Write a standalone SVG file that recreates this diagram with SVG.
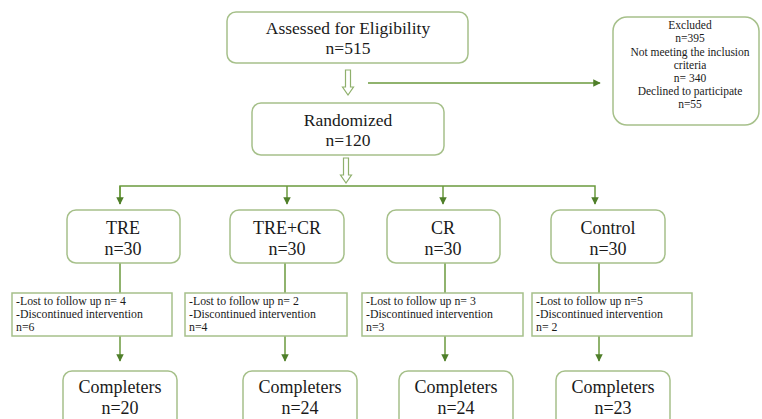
<svg xmlns="http://www.w3.org/2000/svg" width="762" height="419" viewBox="0 0 762 419">
<style>
.box{fill:#fff;stroke:#a6c08a;stroke-width:1.5}
.ln{stroke:#6b9a3e;stroke-width:1.5;fill:none}
.hol{fill:#fff;stroke:#8fb06c;stroke-width:1.2}
</style>
<defs>
<marker id="ah" viewBox="0 0 10 10" refX="9" refY="5" markerWidth="5" markerHeight="5" orient="auto">
<path d="M0,0 L10,5 L0,10 z" fill="#4f7f2a"/>
</marker>
</defs>
<rect width="762" height="419" fill="#fff"/>

<g id="connectors">
<polygon class="hol" points="345.5,70 350.5,70 350.5,87 353.5,87 348,95 342.5,87 345.5,87"/>
<polygon class="hol" points="343.5,158 348.5,158 348.5,175 351.5,175 346,183 340.5,175 343.5,175"/>
<line class="ln" x1="368" y1="83" x2="600" y2="83" marker-end="url(#ah)"/>
<polyline class="ln" points="120,204 120,186 595,186 595,204" marker-end="url(#ah)"/>
<line class="ln" x1="120" y1="186" x2="120" y2="204" marker-end="url(#ah)"/>
<line class="ln" x1="287" y1="186" x2="287" y2="204" marker-end="url(#ah)"/>
<line class="ln" x1="443" y1="186" x2="443" y2="204" marker-end="url(#ah)"/>
<line class="ln" x1="120" y1="263" x2="120" y2="293"/>
<line class="ln" x1="285" y1="263" x2="285" y2="293"/>
<line class="ln" x1="445" y1="263" x2="445" y2="293"/>
<line class="ln" x1="599" y1="263" x2="599" y2="293"/>
<line class="ln" x1="120" y1="336" x2="120" y2="361" marker-end="url(#ah)"/>
<line class="ln" x1="285" y1="336" x2="285" y2="361" marker-end="url(#ah)"/>
<line class="ln" x1="445" y1="336" x2="445" y2="361" marker-end="url(#ah)"/>
<line class="ln" x1="599" y1="336" x2="599" y2="361" marker-end="url(#ah)"/>
</g>

<g font-family="Liberation Serif" fill="#1a1a1a">
<g id="assessed" text-anchor="middle" font-size="17.5">
<rect class="box" x="227" y="12" width="241" height="51" rx="9"/>
<text x="348" y="34">Assessed for Eligibility</text>
<text x="348" y="54">n=515</text>
</g>

<g id="excluded" text-anchor="middle" font-size="11.5">
<rect class="box" x="613" y="17" width="146" height="108" rx="14"/>
<text x="690" y="29">Excluded</text>
<text x="690" y="42">n=395</text>
<text x="690" y="56">Not meeting the inclusion</text>
<text x="690" y="69">criteria</text>
<text x="690" y="82">n= 340</text>
<text x="690" y="95">Declined to participate</text>
<text x="690" y="108">n=55</text>
</g>

<g id="randomized" text-anchor="middle" font-size="17.5">
<rect class="box" x="252" y="103" width="192" height="52" rx="9"/>
<text x="348" y="126">Randomized</text>
<text x="348" y="146">n=120</text>
</g>

<g id="tre" text-anchor="middle" font-size="18">
<rect class="box" x="67" y="210" width="113" height="53" rx="9"/>
<text x="123" y="234">TRE</text>
<text x="123" y="255">n=30</text>
</g>
<g id="trecr" text-anchor="middle" font-size="18">
<rect class="box" x="230" y="210" width="114" height="53" rx="9"/>
<text x="287" y="234">TRE+CR</text>
<text x="287" y="255">n=30</text>
</g>
<g id="cr" text-anchor="middle" font-size="18">
<rect class="box" x="387" y="210" width="113" height="53" rx="9"/>
<text x="443" y="234">CR</text>
<text x="443" y="255">n=30</text>
</g>
<g id="control" text-anchor="middle" font-size="18">
<rect class="box" x="551" y="210" width="114" height="53" rx="9"/>
<text x="608" y="234">Control</text>
<text x="608" y="255">n=30</text>
</g>

<g id="drop-tre" font-size="11.8">
<rect class="box" x="12" y="293" width="160" height="43"/>
<text x="16" y="305">-Lost to follow up n= 4</text>
<text x="16" y="318">-Discontinued intervention</text>
<text x="16" y="331">n=6</text>
</g>
<g id="drop-trecr" font-size="11.8">
<rect class="box" x="185" y="293" width="162" height="43"/>
<text x="189" y="305">-Lost to follow up n= 2</text>
<text x="189" y="318">-Discontinued intervention</text>
<text x="189" y="331">n=4</text>
</g>
<g id="drop-cr" font-size="11.8">
<rect class="box" x="362" y="293" width="161" height="43"/>
<text x="366" y="305">-Lost to follow up n= 3</text>
<text x="366" y="318">-Discontinued intervention</text>
<text x="366" y="331">n=3</text>
</g>
<g id="drop-control" font-size="11.8">
<rect class="box" x="532" y="293" width="160" height="43"/>
<text x="536" y="305">-Lost to follow up n=5</text>
<text x="536" y="318">-Discontinued intervention</text>
<text x="536" y="331">n= 2</text>
</g>

<g id="comp-tre" text-anchor="middle" font-size="18">
<rect class="box" x="63" y="371" width="114" height="60" rx="9"/>
<text x="120" y="393">Completers</text>
<text x="120" y="414">n=20</text>
</g>
<g id="comp-trecr" text-anchor="middle" font-size="18">
<rect class="box" x="243" y="371" width="114" height="60" rx="9"/>
<text x="300" y="393">Completers</text>
<text x="300" y="414">n=24</text>
</g>
<g id="comp-cr" text-anchor="middle" font-size="18">
<rect class="box" x="399" y="371" width="114" height="60" rx="9"/>
<text x="456" y="393">Completers</text>
<text x="456" y="414">n=24</text>
</g>
<g id="comp-control" text-anchor="middle" font-size="18">
<rect class="box" x="556" y="371" width="114" height="60" rx="9"/>
<text x="613" y="393">Completers</text>
<text x="613" y="414">n=23</text>
</g>
</g>
</svg>
